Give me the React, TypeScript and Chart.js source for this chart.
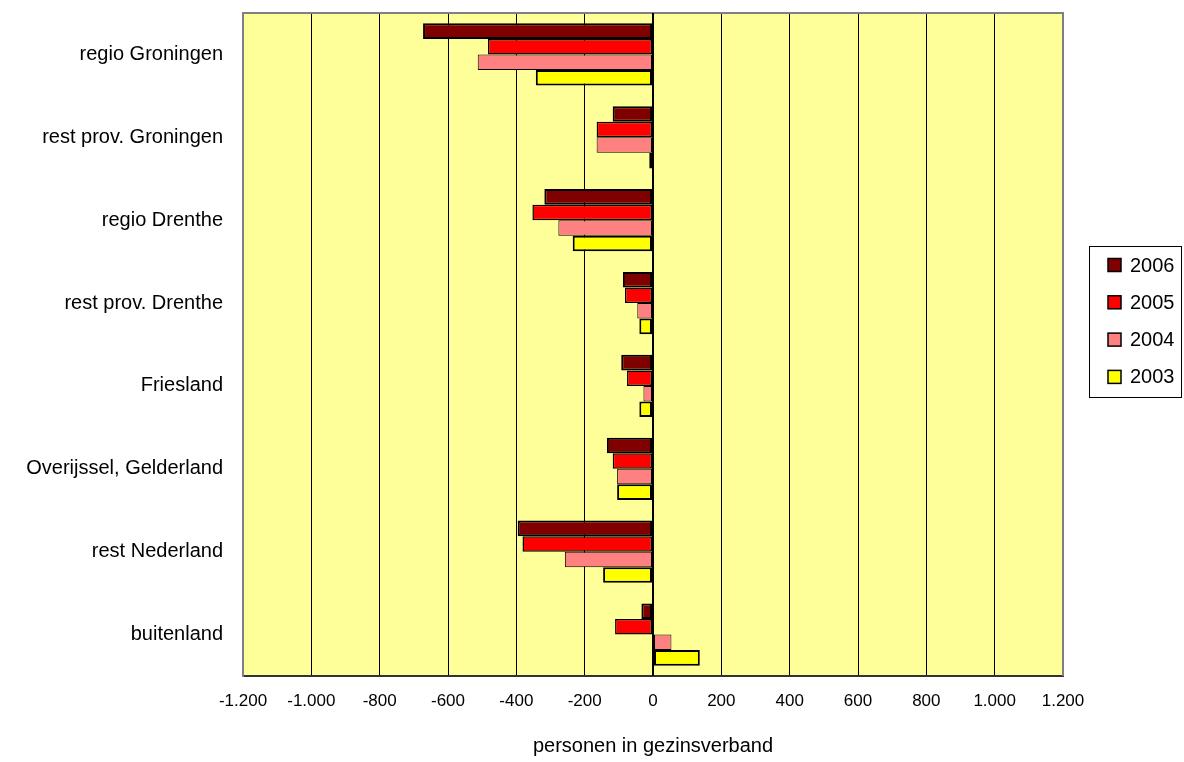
import React, { useEffect, useRef } from "react";
import { Chart, registerables } from "chart.js";

Chart.register(...registerables);

const categories = [
  "regio Groningen",
  "rest prov. Groningen",
  "regio Drenthe",
  "rest prov. Drenthe",
  "Friesland",
  "Overijssel, Gelderland",
  "rest Nederland",
  "buitenland",
];
const seriesLabels = ["2006", "2005", "2004", "2003"];
const values2006 = [-673, -118, -318, -88, -93, -135, -396, -34];
const values2005 = [-483, -165, -353, -82, -76, -118, -382, -111];
const values2004 = [-513, -165, -277, -46, -28, -105, -258, 54];
const values2003 = [-343, -11, -235, -40, -40, -105, -146, 137];
const seriesColors = ["#800000", "#FF0000", "#FF8080", "#FFFF00"];
const seriesBorderWidths = [2, 1.5, 1, 2];
const xMin = -1200;
const xMax = 1200;
const xStep = 200;
const xTitle = "personen in gezinsverband";

const FONT = "'Liberation Sans', Arial, sans-serif";

function fmtNL(v: number): string {
  const a = Math.abs(v).toString();
  const s = a.length > 3 ? a.slice(0, a.length - 3) + "." + a.slice(a.length - 3) : a;
  return (v < 0 ? "-" : "") + s;
}

const frame = {
  id: "frame",
  beforeDraw(chart: any) {
    const { ctx, chartArea: a } = chart;
    ctx.save();
    ctx.fillStyle = "#FFFFFF";
    ctx.fillRect(0, 0, chart.width, chart.height);
    ctx.fillStyle = "#FFFF99";
    ctx.fillRect(a.left, a.top, a.right - a.left, a.bottom - a.top);
    ctx.restore();
  },
  afterDraw(chart: any) {
    const { ctx, chartArea: a } = chart;
    ctx.save();
    ctx.strokeStyle = "#808080";
    ctx.lineWidth = 2;
    ctx.beginPath();
    ctx.moveTo(a.left, a.top);
    ctx.lineTo(a.right, a.top);
    ctx.lineTo(a.right, a.bottom);
    ctx.stroke();
    const x0 = chart.scales.x.getPixelForValue(0);
    ctx.strokeStyle = "#000";
    ctx.lineWidth = 2;
    ctx.beginPath();
    ctx.moveTo(x0, a.top);
    ctx.lineTo(x0, a.bottom);
    ctx.stroke();

    // legend
    const lx = 1089, ly = 246, lw = 92, lh = 151;
    ctx.strokeStyle = "#000";
    ctx.lineWidth = 1;
    ctx.strokeRect(lx + 0.5, ly + 0.5, lw, lh);
    ctx.font = "20px " + FONT;
    ctx.textBaseline = "middle";
    ctx.textAlign = "left";
    chart.data.datasets.forEach((ds: any, i: number) => {
      const cy = 265 + i * 37.3;
      ctx.fillStyle = ds.backgroundColor;
      ctx.fillRect(1108, cy - 6.5, 13, 13);
      ctx.strokeStyle = "#000";
      ctx.lineWidth = 1.5;
      ctx.strokeRect(1108, cy - 6.5, 13, 13);
      ctx.fillStyle = "#000";
      ctx.fillText(ds.label, 1130, cy + 1);
    });
    ctx.restore();
  },
};

export default function App() {
  const ref = useRef<HTMLCanvasElement>(null);
  useEffect(() => {
    const seriesData = [values2006, values2005, values2004, values2003];
    const chart = new Chart(ref.current as HTMLCanvasElement, {
      type: "bar",
      data: {
        labels: categories,
        datasets: seriesLabels.map((lab, i) => ({
          label: lab,
          data: seriesData[i],
          backgroundColor: seriesColors[i],
          borderColor: "#000",
          borderWidth: seriesBorderWidths[i],
          borderSkipped: false,
          categoryPercentage: 0.75,
          barPercentage: 1,
        })),
      },
      options: {
        indexAxis: "y",
        animation: false,
        responsive: false,
        maintainAspectRatio: false,
        devicePixelRatio: 1,
        layout: { padding: { top: 13, right: 121, left: 0, bottom: 0 } },
        plugins: { legend: { display: false }, tooltip: { enabled: false } },
        scales: {
          x: {
            type: "linear",
            min: xMin,
            max: xMax,
            ticks: {
              stepSize: xStep,
              padding: 15,
              color: "#000",
              font: { family: FONT, size: 17 },
              callback: (v: any) => fmtNL(Number(v)),
            },
            grid: {
              drawTicks: false,
              color: (c: any) =>
                c.tick && (c.tick.value === xMin || c.tick.value === xMax) ? "#808080" : "#000",
              lineWidth: (c: any) => (c.tick && c.tick.value === 0 ? 2 : 1),
            },
            border: { display: true, color: "#333", width: 2 },
            title: {
              display: true,
              text: xTitle,
              color: "#000",
              font: { family: FONT, size: 20 },
              padding: { top: 0, bottom: 4 },
            },
            afterFit: (s: any) => {
              s.height = 86;
              s.paddingLeft = 0;
              s.paddingRight = 0;
            },
          } as any,
          y: {
            ticks: {
              padding: 20,
              color: "#000",
              font: { family: FONT, size: 20 },
            },
            grid: { display: false, drawTicks: false },
            border: { display: true, color: "#808080", width: 2 },
            afterFit: (s: any) => {
              s.width = 243;
              s.paddingTop = 0;
              s.paddingBottom = 0;
            },
          } as any,
        },
      },
      plugins: [frame],
    });
    return () => chart.destroy();
  }, []);
  return (
    <div style={{ position: "absolute", left: 0, top: 0, width: 1184, height: 762 }}>
      <canvas ref={ref} width={1184} height={762} style={{ width: 1184, height: 762 }} />
    </div>
  );
}
